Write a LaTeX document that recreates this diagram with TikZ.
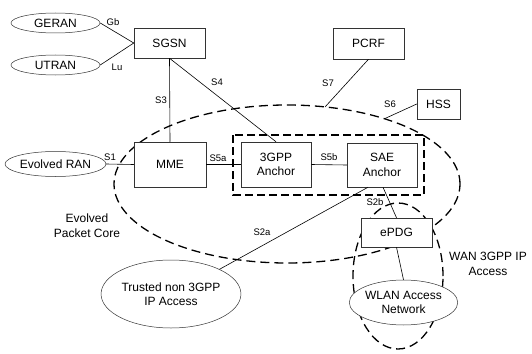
\documentclass[tikz,border=0pt]{standalone}
\usepackage{fontspec}
\setmainfont{Liberation Sans}
\usetikzlibrary{shapes.geometric,calc}
\pgfdeclarelayer{bg}
\pgfsetlayers{bg,main}
\begin{document}
\begin{tikzpicture}[x=1pt,y=-1pt,
  every node/.style={font=\fontsize{12}{14.5}\selectfont, inner sep=0pt, align=center},
  box/.style={draw=black!80, line width=0.5pt, fill=white, rectangle},
  oval/.style={draw=black!80, line width=0.5pt, fill=white, ellipse},
  conn/.style={line width=0.6pt},
  lbl/.style={font=\fontsize{9.5}{11}\selectfont},
  bigdash/.style={line width=1.3pt, dash pattern=on 9pt off 5pt},
  rectdash/.style={line width=1.2pt, dash pattern=on 8pt off 4pt}]
\useasboundingbox (0,0) rectangle (532,353);

% nodes
\node[oval, minimum width=89pt, minimum height=20pt] (geran) at (55.5,23) {GERAN};
\node[oval, minimum width=89pt, minimum height=20pt] (utran) at (55.5,65) {UTRAN};
\node[box, minimum width=71pt, minimum height=30pt] (sgsn) at (169.5,43) {SGSN};
\node[box, minimum width=71pt, minimum height=31pt] (pcrf) at (368.5,43.5) {PCRF};
\node[box, minimum width=43pt, minimum height=30pt] (hss) at (438.5,104) {HSS};
\node[oval, minimum width=89pt, minimum height=25pt] (eran) at (55.5,164) {Evolved RAN};
\node[box, minimum width=72pt, minimum height=45pt] (mme) at (170,164.5) {MME};
\node[box, minimum width=70pt, minimum height=45pt] (gpp) at (276,164.5) {3GPP\\Anchor};
\node[box, minimum width=70pt, minimum height=44pt] (sae) at (382,165) {SAE\\Anchor};
\node[box, minimum width=71pt, minimum height=29pt] (epdg) at (396.5,232.5) {ePDG};
\node[oval, minimum width=122pt, minimum height=68pt] (trusted) at (171,294) {Trusted non 3GPP\\IP Access};
\node[oval, minimum width=103pt, minimum height=45pt] (wlan) at (403.5,302.5) {WLAN Access\\Network};

% plain texts
\node (epc) at (87,225.5) {Evolved\\Packet Core};
\node (wan) at (488,264) {WAN 3GPP IP\\Access};

% points on the core boundary
\coordinate (s7p) at (325,107);
\coordinate (s6p) at (385,118.5);

% dashed regions
\begin{pgfonlayer}{bg}
\draw[bigdash] (287,184) ellipse [x radius=173pt, y radius=79pt];
\draw[bigdash] (398,276) ellipse [x radius=45pt, y radius=73pt];
\draw[rectdash] (233,135) rectangle (424,195);
\end{pgfonlayer}

% connectors
\draw[conn] (geran.east) -- (sgsn.west);
\draw[conn] (utran.east) -- (sgsn.west);
\draw[conn] (sgsn.south) -- (mme.north);
\draw[conn] (sgsn.south) -- (gpp.north);
\draw[conn] (pcrf.south) -- (s7p);
\draw[conn] (hss.west) -- (s6p);
\draw[conn] (eran.east) -- (mme.west);
\draw[conn] (mme.east) -- (gpp.west);
\draw[conn] (gpp.east) -- (sae.west);
\draw[conn] ([xshift=-14pt]sae.south) -- (trusted.27);
\draw[conn] ([xshift=1pt]sae.south) -- (epdg.north);
\draw[conn] (epdg.south) -- (wlan.north);

% connector labels
\node[lbl] (lgb) at (113,22) {Gb};
\node[lbl] (llu) at (117,67) {Lu};
\node[lbl] (ls3) at (161,100) {S3};
\node[lbl] (ls4) at (217,82) {S4};
\node[lbl] (ls7) at (328,83) {S7};
\node[lbl] (ls6) at (390,104) {S6};
\node[lbl] (ls1) at (110,157) {S1};
\node[lbl] (ls5a) at (218,158) {S5a};
\node[lbl] (ls5b) at (329,157) {S5b};
\node[lbl] (ls2a) at (262,232) {S2a};
\node[lbl] (ls2b) at (375,202) {S2b};
\end{tikzpicture}
\end{document}
